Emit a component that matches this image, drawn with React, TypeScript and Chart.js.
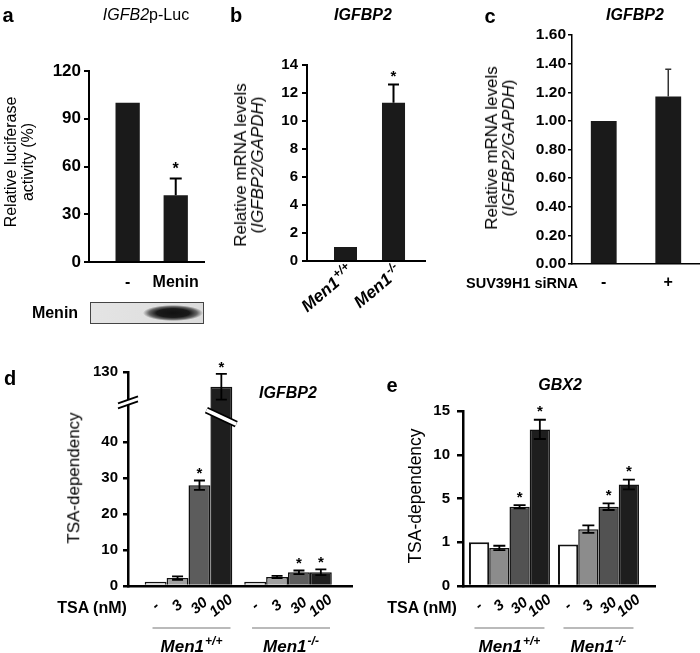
import React, { useEffect, useRef } from 'react';
import { Chart, registerables, LinearScale } from 'chart.js';

Chart.register(...registerables);

const FONT = '"Liberation Sans", Arial, Helvetica, sans-serif';

// ---------------- DATA ----------------
// Panel a: IGFB2p-Luc
const A_CATEGORIES = ['-', 'Menin'];
const A_VALUES = [100, 42];
const A_ERRORS = [0, 10.5];
const A_STARS = [false, true];
const A_TICKS = [0, 30, 60, 90, 120];

// Panel b: IGFBP2 mRNA
const B_GENO_BASE = ['Men1', 'Men1'];
const B_GENO_SUP = ['+/+', '-/-'];
const B_VALUES = [1.0, 11.3];
const B_ERRORS = [0, 1.3];
const B_STARS = [false, true];
const B_TICKS = [0, 2, 4, 6, 8, 10, 12, 14];

// Panel c: IGFBP2 with SUV39H1 siRNA
const C_CATEGORIES = ['-', '+'];
const C_VALUES = [1.0, 1.17];
const C_ERRORS = [0, 0.19];
const C_STARS = [false, false];
const C_TICKS = [0, 0.2, 0.4, 0.6, 0.8, 1.0, 1.2, 1.4, 1.6];

// Panels d/e shared
const DOSES = ['-', '3', '30', '100'];
const GENO_BASE = ['Men1', 'Men1'];
const GENO_SUP = ['+/+', '-/-'];

// Panel d: IGFBP2 TSA-dependency (per dose)
const D_WT = [1.2, 2.2, 28.0, 111];
const D_KO = [1.2, 2.5, 3.8, 3.8];
const D_WT_ERR = [0, 0.5, 1.3, 16.5];
const D_KO_ERR = [0, 0.3, 0.5, 0.8];
const D_WT_STAR = [false, false, true, true];
const D_KO_STAR = [false, false, true, true];
const D_TICKS = [0, 10, 20, 30, 40, 130];
const D_KNOTS = [0, 40, 130];
const D_FRACS = [0, 0.673, 1];

// Panel e: GBX2 TSA-dependency (per dose)
const E_WT = [1.0, 0.87, 4.25, 12.9];
const E_KO = [0.95, 2.2, 4.25, 6.6];
const E_WT_ERR = [0, 0.05, 0.15, 1.1];
const E_KO_ERR = [0, 0.35, 0.3, 0.55];
const E_WT_STAR = [false, false, true, true];
const E_KO_STAR = [false, false, true, true];
const E_TICKS = [0, 1, 5, 10, 15];
const E_KNOTS = [0, 1, 5, 10, 15];
const E_FRACS = [0, 0.25, 0.5, 0.75, 1];

const D_COLORS = ['#cfcfcf', '#a0a0a0', '#5c5c5c', '#1e1e1e'];
const E_COLORS = ['#ffffff', '#8c8c8c', '#525252', '#1e1e1e'];

// ---------------- piecewise scale ----------------
class PiecewiseScale extends LinearScale {
  static id = 'piecewise';
  static defaults = {};
  frac(v: number): number {
    const o: any = this.options;
    const k: number[] = o.knots;
    const f: number[] = o.fractions;
    let i = 1;
    while (i < k.length - 1 && v > k[i]) i++;
    return f[i - 1] + ((v - k[i - 1]) / (k[i] - k[i - 1])) * (f[i] - f[i - 1]);
  }
  getPixelForValue(value: any) {
    if (value === null || value === undefined || Number.isNaN(value)) return NaN;
    return this.getPixelForDecimal(this.frac(value));
  }
  getValueForPixel(pixel: number) {
    const o: any = this.options;
    const k: number[] = o.knots;
    const f: number[] = o.fractions;
    const d = this.getDecimalForPixel(pixel);
    let i = 1;
    while (i < f.length - 1 && d > f[i]) i++;
    return k[i - 1] + ((d - f[i - 1]) / (f[i] - f[i - 1])) * (k[i] - k[i - 1]);
  }
}
Chart.register(PiecewiseScale as any);

// ---------------- helpers ----------------
const Y_W = 44;
const X_H = 40;

function yAxis(o: any) {
  return {
    type: o.type || 'linear',
    min: o.min,
    max: o.max,
    knots: o.knots,
    fractions: o.fractions,
    afterBuildTicks: (s: any) => {
      s.ticks = o.ticks.map((v: number) => ({ value: v }));
    },
    ticks: {
      font: { family: FONT, size: o.font, weight: 'bold' },
      color: '#000',
      padding: o.pad,
      autoSkip: false,
      callback: (v: number) => (o.fmt ? o.fmt(v) : String(v)),
    },
    grid: { drawOnChartArea: false, drawTicks: true, tickLength: o.tickLen, color: '#000', lineWidth: o.lw },
    border: { display: true, color: '#000', width: o.lw },
    afterFit: (s: any) => {
      s.width = Y_W;
    },
  };
}

function xAxis(o: any) {
  const labels: string[] = o.labels;
  return {
    type: 'linear',
    min: o.min,
    max: o.max,
    offset: false,
    afterBuildTicks: (s: any) => {
      s.ticks = labels.map((_: string, i: number) => ({ value: i }));
    },
    ticks: {
      display: !!o.show,
      font: { family: FONT, size: o.font || 16, weight: 'bold' },
      color: '#000',
      padding: o.pad || 0,
      autoSkip: false,
      maxRotation: 0,
      minRotation: 0,
      callback: (v: number) => labels[Math.round(v)] ?? '',
    },
    grid: { display: false, drawTicks: false },
    border: { display: true, color: '#000', width: o.lw },
    afterFit: (s: any) => {
      s.height = X_H;
    },
  };
}

function baseOptions(area: any, x: any, y: any) {
  return {
    responsive: false,
    animation: false,
    events: [],
    layout: {
      padding: { left: area.L - Y_W, top: area.T, right: 700 - area.R, bottom: 653 - area.B - X_H },
    },
    plugins: { legend: { display: false }, tooltip: { enabled: false }, title: { display: false } },
    scales: { x, y },
  };
}

function errorBarsPlugin(cfg: any) {
  return {
    id: 'errorBars',
    afterDatasetsDraw(chart: any) {
      const ctx = chart.ctx;
      const ys = chart.scales.y;
      ctx.save();
      chart.data.datasets.forEach((ds: any, di: number) => {
        const meta = chart.getDatasetMeta(di);
        meta.data.forEach((bar: any, i: number) => {
          const v = ds.data[i].y;
          const e = cfg.errors[di][i];
          let top = bar.y;
          if (e > 0) {
            const hi = ys.getPixelForValue(v + e);
            const lo = cfg.twoSided ? ys.getPixelForValue(v - e) : bar.y;
            ctx.strokeStyle = cfg.color;
            ctx.lineWidth = cfg.lineWidth;
            ctx.beginPath();
            ctx.moveTo(bar.x, lo);
            ctx.lineTo(bar.x, hi);
            ctx.moveTo(bar.x - cfg.cap / 2, hi);
            ctx.lineTo(bar.x + cfg.cap / 2, hi);
            if (cfg.twoSided) {
              ctx.moveTo(bar.x - cfg.cap / 2, lo);
              ctx.lineTo(bar.x + cfg.cap / 2, lo);
            }
            ctx.stroke();
            top = hi;
          }
          if (cfg.stars[di][i]) {
            ctx.fillStyle = '#000';
            ctx.font = `bold ${cfg.starSize}px ${FONT}`;
            ctx.textAlign = 'center';
            ctx.textBaseline = 'alphabetic';
            ctx.fillText('*', bar.x, top - cfg.starGap + cfg.starSize * 0.58);
          }
        });
      });
      ctx.restore();
    },
  };
}

function drawSup(ctx: any, x: number, y: number, base: string, sup: string, size: number, supSize: number, align: string) {
  const bf = `italic bold ${size}px ${FONT}`;
  const sf = `italic bold ${supSize}px ${FONT}`;
  ctx.font = bf;
  const wb = ctx.measureText(base).width;
  ctx.font = sf;
  const ws = ctx.measureText(sup).width;
  const tot = wb + ws + 1;
  const sx = align === 'left' ? x : align === 'center' ? x - tot / 2 : x - tot;
  ctx.fillStyle = '#000';
  ctx.textAlign = 'left';
  ctx.textBaseline = 'alphabetic';
  ctx.font = bf;
  ctx.fillText(base, sx, y);
  ctx.font = sf;
  ctx.fillText(sup, sx + wb + 1, y - size * 0.42);
}

function rotatedGenoPlugin(cfg: any) {
  return {
    id: 'rotGeno',
    afterDraw(chart: any) {
      const ctx = chart.ctx;
      const meta = chart.getDatasetMeta(0);
      meta.data.forEach((bar: any, i: number) => {
        ctx.save();
        ctx.translate(bar.x + cfg.dx, chart.chartArea.bottom + cfg.dy);
        ctx.rotate((-cfg.angle * Math.PI) / 180);
        drawSup(ctx, 0, 0, cfg.base[i], cfg.sup[i], cfg.size, cfg.supSize, 'right');
        ctx.restore();
      });
    },
  };
}

function groupAxisPlugin(cfg: any) {
  return {
    id: 'groupAxis',
    afterDraw(chart: any) {
      const ctx = chart.ctx;
      const bottom = chart.chartArea.bottom;
      const n = chart.data.datasets.length;
      ctx.save();
      chart.data.datasets.forEach((_: any, di: number) => {
        chart.getDatasetMeta(di).data.forEach((bar: any) => {
          ctx.save();
          ctx.translate(bar.x, bottom + cfg.doseDy);
          ctx.rotate((-cfg.angle * Math.PI) / 180);
          ctx.font = `italic bold ${cfg.doseSize}px ${FONT}`;
          ctx.fillStyle = '#000';
          ctx.textAlign = 'center';
          ctx.textBaseline = 'middle';
          ctx.fillText(cfg.doses[di], 0, 0);
          ctx.restore();
        });
      });
      cfg.base.forEach((b: string, gi: number) => {
        const first = chart.getDatasetMeta(0).data[gi];
        const last = chart.getDatasetMeta(n - 1).data[gi];
        const cx = (first.x - first.width / 2 + last.x + last.width / 2) / 2 + cfg.dx;
        ctx.strokeStyle = '#777';
        ctx.lineWidth = 1.2;
        ctx.beginPath();
        ctx.moveTo(cx - cfg.lineHalf, bottom + cfg.lineDy);
        ctx.lineTo(cx + cfg.lineHalf, bottom + cfg.lineDy);
        ctx.stroke();
        drawSup(ctx, cx, bottom + cfg.genoDy, b, cfg.sup[gi], cfg.genoSize, cfg.genoSupSize, 'center');
      });
      ctx.restore();
    },
  };
}

function breakPlugin(cfg: any) {
  return {
    id: 'axisBreak',
    afterDraw(chart: any) {
      const ctx = chart.ctx;
      const ys = chart.scales.y;
      const x0 = chart.chartArea.left;
      const py = ys.getPixelForValue(cfg.axisValue);
      ctx.save();
      ctx.fillStyle = '#fff';
      ctx.beginPath();
      ctx.moveTo(x0 - 10, py + 1);
      ctx.lineTo(x0 + 10, py - 6);
      ctx.lineTo(x0 + 10, py - 1);
      ctx.lineTo(x0 - 10, py + 6);
      ctx.closePath();
      ctx.fill();
      ctx.strokeStyle = '#000';
      ctx.lineWidth = 2;
      ctx.beginPath();
      ctx.moveTo(x0 - 10, py + 1);
      ctx.lineTo(x0 + 10, py - 6);
      ctx.moveTo(x0 - 10, py + 6);
      ctx.lineTo(x0 + 10, py - 1);
      ctx.stroke();
      const bar = chart.getDatasetMeta(cfg.barDataset).data[cfg.barIndex];
      const pb = ys.getPixelForValue(cfg.barValue);
      const l = bar.x - bar.width / 2 - 4;
      const r = bar.x + bar.width / 2 + 4;
      ctx.lineCap = 'butt';
      ctx.strokeStyle = '#000';
      ctx.lineWidth = 7;
      ctx.beginPath();
      ctx.moveTo(l, pb - cfg.barSlope);
      ctx.lineTo(r, pb + cfg.barSlope);
      ctx.stroke();
      ctx.strokeStyle = '#fff';
      ctx.lineWidth = 3.5;
      ctx.beginPath();
      ctx.moveTo(l, pb - cfg.barSlope);
      ctx.lineTo(r, pb + cfg.barSlope);
      ctx.stroke();
      ctx.restore();
    },
  };
}

// ---------------- chart configs ----------------
function makeA() {
  const area = { L: 89, R: 204, T: 71, B: 262 };
  return {
    type: 'bar',
    data: {
      datasets: [
        {
          data: A_VALUES.map((v, i) => ({ x: i, y: v })),
          backgroundColor: '#1a1a1a',
          borderWidth: 0,
          categoryPercentage: 0.505,
          barPercentage: 1,
        },
      ],
    },
    options: baseOptions(
      area,
      xAxis({ min: -0.804, max: 1.588, labels: A_CATEGORIES, show: true, font: 16, pad: 11, lw: 2 }),
      yAxis({ min: 0, max: 120, ticks: A_TICKS, font: 17, pad: 3, tickLen: 5, lw: 2 })
    ),
    plugins: [
      errorBarsPlugin({ errors: [A_ERRORS], stars: [A_STARS], twoSided: false, cap: 12, lineWidth: 2, color: '#000', starGap: 14, starSize: 16 }),
    ],
  };
}

function makeB() {
  const area = { L: 307, R: 425, T: 65, B: 261 };
  return {
    type: 'bar',
    data: {
      datasets: [
        {
          data: B_VALUES.map((v, i) => ({ x: i, y: v })),
          backgroundColor: '#1a1a1a',
          borderWidth: 0,
          categoryPercentage: 0.48,
          barPercentage: 1,
        },
      ],
    },
    options: baseOptions(
      area,
      xAxis({ min: -0.802, max: 1.656, labels: B_GENO_BASE, show: false, lw: 2 }),
      yAxis({ min: 0, max: 14, ticks: B_TICKS, font: 15, pad: 4, tickLen: 5, lw: 2 })
    ),
    plugins: [
      errorBarsPlugin({ errors: [B_ERRORS], stars: [B_STARS], twoSided: false, cap: 11, lineWidth: 2, color: '#000', starGap: 12, starSize: 15 }),
      rotatedGenoPlugin({ base: B_GENO_BASE, sup: B_GENO_SUP, dx: 9, dy: 12, angle: 40, size: 17, supSize: 12 }),
    ],
  };
}

function makeC() {
  const area = { L: 572, R: 700, T: 35, B: 264 };
  return {
    type: 'bar',
    data: {
      datasets: [
        {
          data: C_VALUES.map((v, i) => ({ x: i, y: v })),
          backgroundColor: '#1a1a1a',
          borderWidth: 0,
          categoryPercentage: 0.4,
          barPercentage: 1,
        },
      ],
    },
    options: baseOptions(
      area,
      xAxis({ min: -0.492, max: 1.492, labels: C_CATEGORIES, show: true, font: 16, pad: 9, lw: 1.5 }),
      yAxis({ min: 0, max: 1.6, ticks: C_TICKS, font: 15.5, pad: 2, tickLen: 4, lw: 1.5, fmt: (v: number) => v.toFixed(2) })
    ),
    plugins: [
      errorBarsPlugin({ errors: [C_ERRORS], stars: [C_STARS], twoSided: false, cap: 6, lineWidth: 1.5, color: '#333', starGap: 12, starSize: 15 }),
    ],
  };
}

function groupedDatasets(wt: number[], ko: number[], colors: string[], borders: number[], pct: number) {
  return DOSES.map((d, i) => ({
    label: d,
    data: [
      { x: 0, y: wt[i] },
      { x: 1, y: ko[i] },
    ],
    backgroundColor: colors[i],
    borderColor: '#111',
    borderWidth: borders[i],
    categoryPercentage: pct,
    barPercentage: 1,
  }));
}

function makeD() {
  const area = { L: 128, R: 352, T: 372, B: 586 };
  return {
    type: 'bar',
    data: { datasets: groupedDatasets(D_WT, D_KO, D_COLORS, [1.5, 1.5, 1.5, 1.5], 0.88) },
    options: baseOptions(
      area,
      xAxis({ min: -0.608, max: 1.643, labels: GENO_BASE, show: false, lw: 2.5 }),
      yAxis({ type: 'piecewise', min: 0, max: 130, knots: D_KNOTS, fractions: D_FRACS, ticks: D_TICKS, font: 15, pad: 5, tickLen: 5, lw: 2.5 })
    ),
    plugins: [
      errorBarsPlugin({
        errors: DOSES.map((_, i) => [D_WT_ERR[i], D_KO_ERR[i]]),
        stars: DOSES.map((_, i) => [D_WT_STAR[i], D_KO_STAR[i]]),
        twoSided: true, cap: 11, lineWidth: 1.8, color: '#000', starGap: 11, starSize: 15,
      }),
      breakPlugin({ axisValue: 91, barValue: 72, barDataset: 3, barIndex: 0, barSlope: 7 }),
      groupAxisPlugin({ doses: DOSES, base: GENO_BASE, sup: GENO_SUP, angle: 40, doseDy: 20, doseSize: 15, lineDy: 42, lineHalf: 39, genoDy: 66, genoSize: 17, genoSupSize: 12, dx: 3 }),
    ],
  };
}

function makeE() {
  const area = { L: 463, R: 655, T: 411, B: 586 };
  return {
    type: 'bar',
    data: { datasets: groupedDatasets(E_WT, E_KO, E_COLORS, [2, 1.5, 1.5, 1.5], 0.91) },
    options: baseOptions(
      area,
      xAxis({ min: -0.522, max: 1.635, labels: GENO_BASE, show: false, lw: 2.5 }),
      yAxis({ type: 'piecewise', min: 0, max: 15, knots: E_KNOTS, fractions: E_FRACS, ticks: E_TICKS, font: 15, pad: 7, tickLen: 6, lw: 2.5 })
    ),
    plugins: [
      errorBarsPlugin({
        errors: DOSES.map((_, i) => [E_WT_ERR[i], E_KO_ERR[i]]),
        stars: DOSES.map((_, i) => [E_WT_STAR[i], E_KO_STAR[i]]),
        twoSided: true, cap: 12, lineWidth: 1.8, color: '#000', starGap: 12, starSize: 15,
      }),
      groupAxisPlugin({ doses: DOSES, base: GENO_BASE, sup: GENO_SUP, angle: 40, doseDy: 20, doseSize: 15, lineDy: 42, lineHalf: 35, genoDy: 66, genoSize: 17, genoSupSize: 12, dx: 0 }),
    ],
  };
}

// ---------------- components ----------------
function ChartCanvas({ make }: { make: () => any }) {
  const ref = useRef<HTMLCanvasElement>(null);
  useEffect(() => {
    const chart = new Chart(ref.current as HTMLCanvasElement, make());
    return () => chart.destroy();
  }, []);
  return (
    <canvas
      ref={ref}
      width={700}
      height={653}
      style={{ position: 'absolute', left: 0, top: 0, width: 700, height: 653 }}
    />
  );
}

function Txt(p: any) {
  return (
    <div
      style={{
        position: 'absolute',
        left: p.x,
        top: p.y,
        transform: `translate(-50%, -50%) rotate(${p.rot || 0}deg)`,
        fontFamily: FONT,
        fontSize: p.size,
        fontWeight: p.bold ? 700 : 400,
        fontStyle: p.italic ? 'italic' : 'normal',
        lineHeight: p.lh ? `${p.lh}px` : 1.15,
        whiteSpace: 'nowrap',
        textAlign: 'center',
        color: '#000',
      }}
    >
      {p.children}
    </div>
  );
}

export default function App() {
  return (
    <div
      style={{
        position: 'fixed',
        left: 0,
        top: 0,
        width: 700,
        height: 653,
        background: '#fff',
        overflow: 'hidden',
      }}
    >
      <ChartCanvas make={makeA} />
      <ChartCanvas make={makeB} />
      <ChartCanvas make={makeC} />
      <ChartCanvas make={makeD} />
      <ChartCanvas make={makeE} />

      {/* panel a */}
      <Txt x={8} y={15} size={20} bold>a</Txt>
      <Txt x={146} y={15} size={16}>
        <i>IGFB2</i>p-Luc
      </Txt>
      <Txt x={19} y={162} size={16} rot={-90} lh={17}>
        Relative luciferase
        <br />
        activity (%)
      </Txt>
      <Txt x={55} y={313} size={16} bold>Menin</Txt>
      <div
        style={{
          position: 'absolute',
          left: 90,
          top: 302,
          width: 112,
          height: 20,
          border: '1px solid #444',
          background:
            'radial-gradient(ellipse 30px 8px at 82px 10px, #111 0%, #1a1a1a 55%, #666 80%, rgba(230,230,230,0) 100%), linear-gradient(90deg, #e4e4e4, #dcdcdc)',
        }}
      />

      {/* panel b */}
      <Txt x={236} y={15} size={20} bold>b</Txt>
      <Txt x={363} y={15} size={16} bold italic>IGFBP2</Txt>
      <Txt x={249} y={165} size={17} rot={-90} lh={17}>
        Relative mRNA levels
        <br />
        (<i>IGFBP2/GAPDH</i>)
      </Txt>

      {/* panel c */}
      <Txt x={490} y={16} size={20} bold>c</Txt>
      <Txt x={635} y={15} size={16} bold italic>IGFBP2</Txt>
      <Txt x={500} y={148} size={17} rot={-90} lh={17}>
        Relative mRNA levels
        <br />
        (<i>IGFBP2/GAPDH</i>)
      </Txt>
      <Txt x={522} y={283} size={14.5} bold>SUV39H1 siRNA</Txt>

      {/* panel d */}
      <Txt x={10} y={378} size={20} bold>d</Txt>
      <Txt x={288} y={393} size={16} bold italic>IGFBP2</Txt>
      <Txt x={74} y={478} size={17} rot={-90}>TSA-dependency</Txt>
      <Txt x={92} y={608} size={16} bold>TSA (nM)</Txt>

      {/* panel e */}
      <Txt x={392} y={385} size={20} bold>e</Txt>
      <Txt x={560} y={385} size={16} bold italic>GBX2</Txt>
      <Txt x={415} y={496} size={17.5} rot={-90}>TSA-dependency</Txt>
      <Txt x={422} y={608} size={16} bold>TSA (nM)</Txt>
    </div>
  );
}
